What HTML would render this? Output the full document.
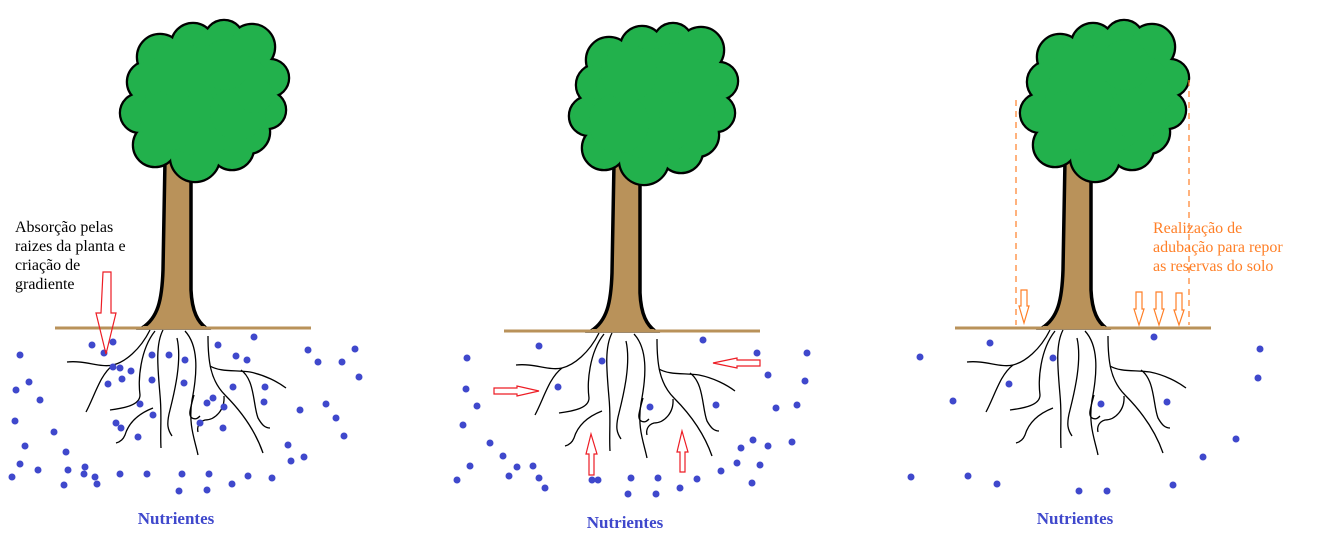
<!DOCTYPE html>
<html><head><meta charset="utf-8"><style>
html,body{margin:0;padding:0;background:#fff;}
svg{display:block}
text{font-family:"Liberation Serif",serif;}
</style></head><body>
<svg width="1343" height="542" viewBox="0 0 1343 542" xmlns="http://www.w3.org/2000/svg">
<defs>
<g id="tree">
  <path d="M142,328 C158,318 162,300 163,270 L165,160 L191,160 L191,290 C192,312 198,322 206,328 Z" fill="#b9925a" stroke="#000" stroke-width="3.5"/>
  <line x1="55" y1="328" x2="311" y2="328" stroke="#b9925a" stroke-width="3"/>
  <path d="M143,327 L205,327" stroke="#b9925a" stroke-width="2"/>
  <g stroke="#000" stroke-width="4.5" fill="#000">
    <circle cx="160" cy="57" r="22"/><circle cx="193" cy="45" r="21"/><circle cx="224" cy="40" r="19"/>
    <circle cx="252" cy="47" r="22"/><circle cx="270" cy="78" r="18"/><circle cx="267" cy="110" r="18"/>
    <circle cx="248" cy="132" r="21"/><circle cx="232" cy="148" r="21"/><circle cx="195" cy="157" r="24"/>
    <circle cx="155" cy="145" r="21"/><circle cx="140" cy="113" r="19"/><circle cx="148" cy="82" r="20"/>
    <circle cx="200" cy="100" r="55"/>
  </g>
  <g fill="#22b14c">
    <circle cx="160" cy="57" r="22"/><circle cx="193" cy="45" r="21"/><circle cx="224" cy="40" r="19"/>
    <circle cx="252" cy="47" r="22"/><circle cx="270" cy="78" r="18"/><circle cx="267" cy="110" r="18"/>
    <circle cx="248" cy="132" r="21"/><circle cx="232" cy="148" r="21"/><circle cx="195" cy="157" r="24"/>
    <circle cx="155" cy="145" r="21"/><circle cx="140" cy="113" r="19"/><circle cx="148" cy="82" r="20"/>
    <circle cx="200" cy="100" r="55"/>
    <circle cx="240" cy="85" r="30"/><circle cx="238" cy="112" r="28"/><circle cx="225" cy="65" r="25"/>
    <circle cx="255" cy="95" r="18"/><circle cx="170" cy="120" r="30"/><circle cx="180" cy="70" r="28"/>
  </g>
  <g fill="none" stroke="#000" stroke-width="1.3">
    <path d="M150,330 C140,350 125,362 113,365 C100,368 85,360 67,362"/>
    <path d="M113,365 C100,375 95,395 86,412"/>
    <path d="M155,331 C140,350 138,380 140,395 C140,405 125,408 110,410"/>
    <path d="M153,408 C135,415 128,425 125,435 C123,440 120,442 116,443"/>
    <path d="M163,330 C155,345 158,370 160,395 C162,415 160,430 161,448"/>
    <path d="M177,338 C182,360 175,390 170,410 C166,425 168,430 172,436"/>
    <path d="M185,331 C198,345 198,370 192,400 C188,425 195,440 198,455"/>
    <path d="M194,395 C190,410 188,415 192,418 C196,420 198,418 200,416"/>
    <path d="M208,336 C208,360 210,380 225,395 C240,410 255,430 263,453"/>
    <path d="M210,366 C220,372 235,370 250,372 C265,375 278,382 286,388"/>
    <path d="M241,370 C255,380 253,405 258,418 C262,425 265,428 270,428"/>
    <path d="M224,396 C225,410 215,420 205,420 C198,422 197,428 198,432"/>
  </g>
</g>
</defs>
<use href="#tree"/>
<use href="#tree" x="449" y="3"/>
<use href="#tree" x="900" y="0"/>

<g fill="#3f48cc">
<circle cx="20" cy="355" r="3.5"/><circle cx="29" cy="382" r="3.5"/><circle cx="16" cy="390" r="3.5"/><circle cx="40" cy="400" r="3.5"/><circle cx="15" cy="421" r="3.5"/><circle cx="25" cy="446" r="3.5"/><circle cx="20" cy="464" r="3.5"/><circle cx="38" cy="470" r="3.5"/><circle cx="54" cy="432" r="3.5"/><circle cx="66" cy="452" r="3.5"/><circle cx="64" cy="485" r="3.5"/><circle cx="85" cy="467" r="3.5"/><circle cx="95" cy="477" r="3.5"/><circle cx="92" cy="345" r="3.5"/><circle cx="104" cy="353" r="3.5"/><circle cx="113" cy="342" r="3.5"/><circle cx="113" cy="367" r="3.5"/><circle cx="122" cy="379" r="3.5"/><circle cx="108" cy="384" r="3.5"/><circle cx="120" cy="368" r="3.5"/><circle cx="131" cy="371" r="3.5"/><circle cx="140" cy="404" r="3.5"/><circle cx="116" cy="423" r="3.5"/><circle cx="121" cy="428" r="3.5"/><circle cx="138" cy="437" r="3.5"/><circle cx="152" cy="355" r="3.5"/><circle cx="169" cy="355" r="3.5"/><circle cx="185" cy="360" r="3.5"/><circle cx="184" cy="383" r="3.5"/><circle cx="152" cy="380" r="3.5"/><circle cx="153" cy="415" r="3.5"/><circle cx="200" cy="423" r="3.5"/><circle cx="207" cy="403" r="3.5"/><circle cx="213" cy="398" r="3.5"/><circle cx="224" cy="407" r="3.5"/><circle cx="223" cy="428" r="3.5"/><circle cx="233" cy="387" r="3.5"/><circle cx="218" cy="345" r="3.5"/><circle cx="236" cy="356" r="3.5"/><circle cx="247" cy="360" r="3.5"/><circle cx="254" cy="337" r="3.5"/><circle cx="264" cy="402" r="3.5"/><circle cx="265" cy="387" r="3.5"/><circle cx="288" cy="445" r="3.5"/><circle cx="300" cy="410" r="3.5"/><circle cx="308" cy="350" r="3.5"/><circle cx="318" cy="362" r="3.5"/><circle cx="326" cy="404" r="3.5"/><circle cx="342" cy="362" r="3.5"/><circle cx="355" cy="349" r="3.5"/><circle cx="359" cy="377" r="3.5"/><circle cx="336" cy="418" r="3.5"/><circle cx="344" cy="436" r="3.5"/><circle cx="304" cy="457" r="3.5"/><circle cx="291" cy="461" r="3.5"/><circle cx="272" cy="478" r="3.5"/><circle cx="248" cy="476" r="3.5"/><circle cx="232" cy="484" r="3.5"/><circle cx="209" cy="474" r="3.5"/><circle cx="207" cy="490" r="3.5"/><circle cx="182" cy="474" r="3.5"/><circle cx="179" cy="491" r="3.5"/><circle cx="147" cy="474" r="3.5"/><circle cx="120" cy="474" r="3.5"/><circle cx="97" cy="484" r="3.5"/><circle cx="12" cy="477" r="3.5"/><circle cx="68" cy="470" r="3.5"/><circle cx="84" cy="474" r="3.5"/>
<circle cx="539" cy="346" r="3.5"/><circle cx="467" cy="358" r="3.5"/><circle cx="466" cy="389" r="3.5"/><circle cx="463" cy="425" r="3.5"/><circle cx="477" cy="406" r="3.5"/><circle cx="470" cy="466" r="3.5"/><circle cx="457" cy="480" r="3.5"/><circle cx="490" cy="443" r="3.5"/><circle cx="503" cy="456" r="3.5"/><circle cx="517" cy="467" r="3.5"/><circle cx="533" cy="466" r="3.5"/><circle cx="545" cy="488" r="3.5"/><circle cx="592" cy="480" r="3.5"/><circle cx="631" cy="478" r="3.5"/><circle cx="628" cy="494" r="3.5"/><circle cx="658" cy="478" r="3.5"/><circle cx="656" cy="494" r="3.5"/><circle cx="680" cy="488" r="3.5"/><circle cx="697" cy="479" r="3.5"/><circle cx="721" cy="471" r="3.5"/><circle cx="737" cy="463" r="3.5"/><circle cx="741" cy="448" r="3.5"/><circle cx="752" cy="483" r="3.5"/><circle cx="760" cy="465" r="3.5"/><circle cx="768" cy="446" r="3.5"/><circle cx="753" cy="440" r="3.5"/><circle cx="792" cy="442" r="3.5"/><circle cx="776" cy="408" r="3.5"/><circle cx="768" cy="375" r="3.5"/><circle cx="797" cy="405" r="3.5"/><circle cx="807" cy="353" r="3.5"/><circle cx="805" cy="381" r="3.5"/><circle cx="757" cy="353" r="3.5"/><circle cx="703" cy="340" r="3.5"/><circle cx="602" cy="361" r="3.5"/><circle cx="650" cy="407" r="3.5"/><circle cx="716" cy="405" r="3.5"/><circle cx="558" cy="387" r="3.5"/><circle cx="598" cy="480" r="3.5"/><circle cx="509" cy="476" r="3.5"/><circle cx="539" cy="478" r="3.5"/>
<circle cx="920" cy="357" r="3.5"/><circle cx="990" cy="343" r="3.5"/><circle cx="953" cy="401" r="3.5"/><circle cx="1009" cy="384" r="3.5"/><circle cx="1053" cy="358" r="3.5"/><circle cx="1101" cy="404" r="3.5"/><circle cx="1154" cy="337" r="3.5"/><circle cx="1167" cy="402" r="3.5"/><circle cx="1260" cy="349" r="3.5"/><circle cx="1258" cy="378" r="3.5"/><circle cx="1236" cy="439" r="3.5"/><circle cx="1203" cy="457" r="3.5"/><circle cx="1173" cy="485" r="3.5"/><circle cx="911" cy="477" r="3.5"/><circle cx="968" cy="476" r="3.5"/><circle cx="997" cy="484" r="3.5"/><circle cx="1079" cy="491" r="3.5"/><circle cx="1107" cy="491" r="3.5"/>
</g>

<g fill="none" stroke="#ed1c24" stroke-width="1.2">
<path d="M103,272 L111,272 L111,313 L116,313 L106,354 L96,313 L101,313 Z"/>
<path d="M494,388 L517,388 L517,386 L539,391 L517,396 L517,394 L494,394 Z"/>
<path d="M760,360 L737,360 L737,358 L713,363 L737,368 L737,366 L760,366 Z"/>
<path d="M589,475 L589,454 L586,454 L591,434 L597,454 L594,454 L594,475 Z"/>
<path d="M680,472 L680,452 L677,452 L682,431 L688,452 L685,452 L685,472 Z"/>
</g>

<g fill="none" stroke="#ff7f27" stroke-width="1.2">
<line x1="1016" y1="100" x2="1016" y2="325" stroke-dasharray="6,5"/>
<line x1="1189" y1="80" x2="1189" y2="325" stroke-dasharray="6,5"/>
<path d="M1021,290 L1027,290 L1027,306 L1029,306 L1024,323 L1019,306 L1021,306 Z"/>
<path d="M1136,292 L1142,292 L1142,309 L1144,309 L1139,325 L1134,309 L1136,309 Z"/>
<path d="M1156,292 L1162,292 L1162,309 L1164,309 L1159,325 L1154,309 L1156,309 Z"/>
<path d="M1176,293 L1182,293 L1182,310 L1184,310 L1179,325 L1174,310 L1176,310 Z"/>
</g>

<g font-size="16" fill="#000">
<text x="15" y="232">Absorção pelas</text>
<text x="15" y="251">raizes da planta e</text>
<text x="15" y="270">criação de</text>
<text x="15" y="289">gradiente</text>
</g>
<g font-size="16" fill="#ff7f27">
<text x="1153" y="233">Realização de</text>
<text x="1153" y="252">adubação para repor</text>
<text x="1153" y="271">as reservas do solo</text>
</g>
<g font-size="17" font-weight="bold" fill="#3f48cc" text-anchor="middle">
<text x="176" y="524">Nutrientes</text>
<text x="625" y="528">Nutrientes</text>
<text x="1075" y="524">Nutrientes</text>
</g>
</svg>
</body></html>
